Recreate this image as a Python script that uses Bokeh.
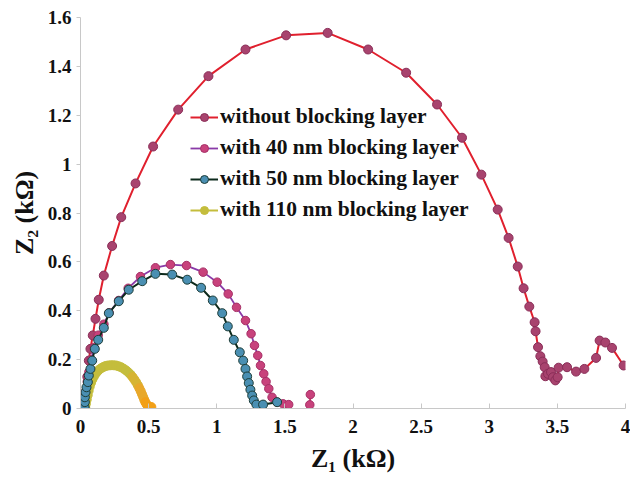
from bokeh.plotting import figure
from bokeh.models import ColumnDataSource, Range1d, FixedTicker, Legend, LegendItem
from bokeh.transform import linear_cmap
from bokeh.embed import file_html
from bokeh.resources import INLINE

# ---------------- data (kOhm) ----------------
wo_x = [0.040, 0.050, 0.061, 0.073, 0.090, 0.110, 0.134, 0.171, 0.232, 0.299, 0.404, 0.533,
        0.717, 0.939, 1.211, 1.509, 1.814, 2.111, 2.390, 2.617, 2.800, 2.942, 3.062, 3.142,
        3.209, 3.252, 3.294, 3.333, 3.340, 3.358, 3.375, 3.392, 3.407, 3.412, 3.431, 3.453,
        3.468, 3.485, 3.502, 3.509, 3.571, 3.637, 3.698, 3.784, 3.810, 3.852, 3.901, 3.986]
wo_y = [0.060, 0.130, 0.196, 0.244, 0.299, 0.367, 0.445, 0.544, 0.665, 0.783, 0.921, 1.072,
        1.223, 1.360, 1.469, 1.527, 1.537, 1.469, 1.374, 1.244, 1.108, 0.957, 0.814, 0.698,
        0.581, 0.492, 0.417, 0.353, 0.316, 0.251, 0.214, 0.192, 0.169, 0.132, 0.142, 0.149,
        0.128, 0.115, 0.128, 0.167, 0.169, 0.151, 0.162, 0.207, 0.278, 0.270, 0.248, 0.176]

n40_x = [0.030, 0.034, 0.040, 0.050, 0.062, 0.078, 0.100, 0.130, 0.172, 0.210, 0.280, 0.350,
         0.440, 0.550, 0.660, 0.778, 0.900, 1.003, 1.084, 1.145, 1.211, 1.252, 1.277, 1.301,
         1.321, 1.345, 1.362, 1.382, 1.406, 1.443, 1.487, 1.528]
n40_y = [0.005, 0.030, 0.070, 0.110, 0.150, 0.200, 0.250, 0.300, 0.345, 0.392, 0.442, 0.492,
         0.540, 0.576, 0.589, 0.585, 0.558, 0.517, 0.469, 0.414, 0.360, 0.306, 0.258, 0.217,
         0.176, 0.142, 0.110, 0.081, 0.046, 0.026, 0.019, 0.016]
n40_tail_x = [1.683, 1.687]
n40_tail_y = [0.015, 0.057]

n50_x = [0.030, 0.032, 0.032, 0.037, 0.044, 0.054, 0.061, 0.073, 0.086, 0.105, 0.130, 0.171,
         0.208, 0.281, 0.354, 0.453, 0.550, 0.673, 0.783, 0.885, 0.971, 1.040, 1.081, 1.125,
         1.169, 1.194, 1.211, 1.223, 1.235, 1.247, 1.260, 1.272, 1.291, 1.340, 1.443]
n50_y = [0.005, 0.026, 0.046, 0.067, 0.087, 0.108, 0.135, 0.162, 0.196, 0.244, 0.281, 0.330,
         0.390, 0.439, 0.486, 0.521, 0.551, 0.548, 0.527, 0.494, 0.442, 0.390, 0.336, 0.281,
         0.230, 0.196, 0.162, 0.131, 0.104, 0.077, 0.053, 0.033, 0.016, 0.016, 0.026]

n110_x = [0.035, 0.040, 0.046, 0.053, 0.060, 0.068, 0.077, 0.087, 0.098, 0.110, 0.123, 0.137,
          0.152, 0.168, 0.185, 0.203, 0.222, 0.241, 0.260, 0.279, 0.298, 0.316, 0.334, 0.351,
          0.367, 0.382, 0.396, 0.409, 0.421, 0.432, 0.442, 0.451, 0.460, 0.468, 0.476, 0.485,
          0.495, 0.508, 0.520]
n110_y = [0.005, 0.020, 0.037, 0.055, 0.073, 0.090, 0.105, 0.119, 0.131, 0.142, 0.151, 0.159,
          0.165, 0.170, 0.174, 0.176, 0.177, 0.177, 0.176, 0.173, 0.169, 0.163, 0.156, 0.148,
          0.139, 0.129, 0.118, 0.107, 0.095, 0.083, 0.071, 0.059, 0.047, 0.036, 0.026, 0.017,
          0.010, 0.006, 0.006]

labels = ["without blocking layer", "with 40 nm blocking layer",
          "with 50 nm blocking layer", "with 110 nm blocking layer"]

x_ticks = [0, 0.5, 1, 1.5, 2, 2.5, 3, 3.5, 4]
x_tick_labels = ["0", "0.5", "1", "1.5", "2", "2.5", "3", "3.5", "4"]
y_ticks = [0, 0.2, 0.4, 0.6, 0.8, 1.0, 1.2, 1.4, 1.6]
y_tick_labels = ["0", "0.2", "0.4", "0.6", "0.8", "1", "1.2", "1.4", "1.6"]

FONT = "Liberation Serif"

p = figure(width=630, height=478, output_backend="svg", toolbar_location=None,
           x_range=Range1d(0, 4), y_range=Range1d(0, 1.6),
           min_border_left=80, min_border_right=5, min_border_top=17, min_border_bottom=70)
p.outline_line_color = None
p.grid.visible = False
p.background_fill_color = "white"
p.border_fill_color = "white"

# ---- series ----
s_wo = ColumnDataSource(dict(x=wo_x, y=wo_y))
s_40 = ColumnDataSource(dict(x=n40_x, y=n40_y))
s_40t = ColumnDataSource(dict(x=n40_tail_x, y=n40_tail_y))
s_50 = ColumnDataSource(dict(x=n50_x, y=n50_y))
s_110 = ColumnDataSource(dict(x=n110_x, y=n110_y))

l_wo = p.line("x", "y", source=s_wo, line_color="#e0202e", line_width=2)
m_wo = p.scatter("x", "y", source=s_wo, size=9, fill_color="#a8436e", line_color="#8a2e58", line_width=1)

l_40 = p.line("x", "y", source=s_40, line_color="#8a3aa8", line_width=1.8)
m_40 = p.scatter("x", "y", source=s_40, size=8.5, fill_color="#c8427c", line_color="#a63066", line_width=1)
p.line("x", "y", source=s_40t, line_color="#d0305a", line_width=1.8)
p.scatter("x", "y", source=s_40t, size=8.5, fill_color="#c8427c", line_color="#a63066", line_width=1)

cmap = linear_cmap("x", palette=["#c4bd3c"] * 7 + ["#d6b432", "#e8a82a", "#f2a018"], low=0.03, high=0.52)
l_110 = p.line("x", "y", source=s_110, line_color="#c4bd3c", line_width=2)
m_110 = p.scatter("x", "y", source=s_110, size=9, fill_color=cmap, line_color=cmap, line_width=1)

l_50 = p.line("x", "y", source=s_50, line_color="#0d2a1c", line_width=2)
m_50 = p.scatter("x", "y", source=s_50, size=9, fill_color="#4a8fb2", line_color="#1d3d38", line_width=1)

# ---- axes ----
for ax, ticks, tl in ((p.xaxis[0], x_ticks, x_tick_labels), (p.yaxis[0], y_ticks, y_tick_labels)):
    ax.ticker = FixedTicker(ticks=ticks)
    ax.major_label_overrides = {t: s for t, s in zip(ticks, tl)}
    ax.minor_tick_line_color = None
    ax.axis_line_color = "#c8c8c8"
    ax.major_tick_line_color = "#c8c8c8"
    ax.major_label_text_font = FONT
    ax.major_label_text_font_style = "bold"
    ax.major_label_text_font_size = "19px"
    ax.major_label_text_color = "#111111"
    ax.axis_label_text_font = FONT
    ax.axis_label_text_font_style = "bold"
    ax.axis_label_text_font_size = "26px"
    ax.axis_label_text_color = "#111111"

p.xaxis.major_tick_in = 5
p.xaxis.major_tick_out = 0
p.xaxis.major_label_standoff = 11
p.xaxis.axis_label = "Z\u2081 (k\u03a9)"
p.xaxis.axis_label_standoff = 8

p.yaxis.major_tick_in = 0
p.yaxis.major_tick_out = 4
p.yaxis.major_label_standoff = 5
p.yaxis.axis_label = "Z\u2082 (k\u03a9)"
p.yaxis.axis_label_standoff = 6

# ---- legend ----
legend = Legend(items=[
    LegendItem(label=labels[0], renderers=[l_wo, m_wo]),
    LegendItem(label=labels[1], renderers=[l_40, m_40]),
    LegendItem(label=labels[2], renderers=[l_50, m_50]),
    LegendItem(label=labels[3], renderers=[l_110, m_110]),
], location=(110, 186))
legend.padding = 0
legend.margin = 0
legend.spacing = 6
legend.glyph_width = 28
legend.glyph_height = 20
legend.label_height = 20
legend.label_standoff = 2
legend.label_text_font = FONT
legend.label_text_font_style = "bold"
legend.label_text_font_size = "21.5px"
legend.label_text_color = "#111111"
legend.background_fill_alpha = 0
legend.border_line_alpha = 0
p.add_layout(legend)

open("out.html", "w").write(file_html(p, INLINE))
